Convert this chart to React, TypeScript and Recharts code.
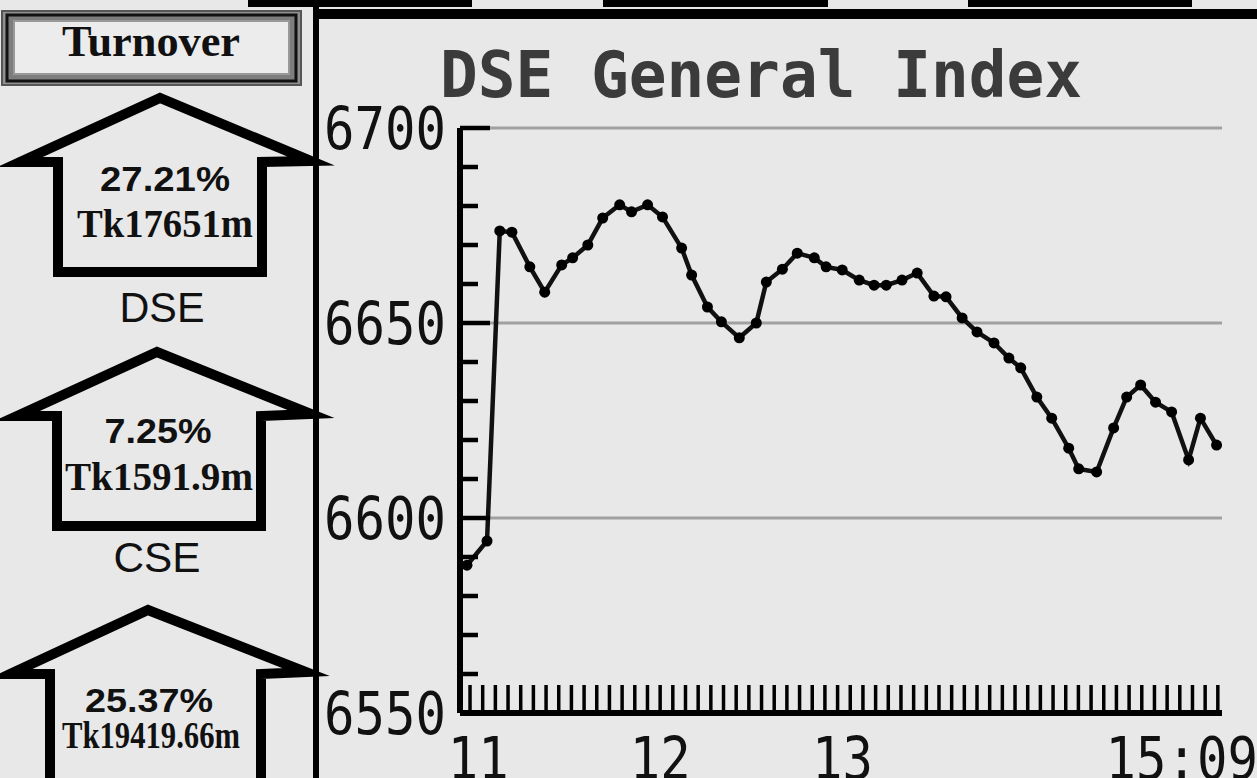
import React from 'react';
import { LineChart, Line, XAxis, YAxis, ReferenceLine } from 'recharts';

// ---- data ----
const chartTitle = 'DSE General Index';
// minutes since midnight
const times = [656.3, 662.9, 667.1, 671.1, 677.0, 681.9, 687.5, 691.1, 696.1, 701.0, 706.6, 710.5, 715.8, 720.7, 727.0, 730.3, 735.5, 740.1, 746.0, 751.6, 754.9, 760.2, 765.1, 770.7, 774.6, 779.9, 785.5, 790.4, 794.4, 799.6, 804.6, 810.1, 814.1, 819.4, 824.3, 829.9, 834.8, 838.7, 844.0, 848.9, 854.5, 857.8, 863.7, 869.3, 873.6, 878.2, 883.1, 888.4, 894.0, 897.9, 903.2];
const indexValues = [6587.9, 6594.1, 6673.6, 6673.3, 6664.4, 6657.9, 6664.9, 6666.7, 6670.0, 6676.9, 6680.3, 6678.5, 6680.3, 6677.2, 6669.2, 6662.3, 6654.1, 6650.3, 6646.2, 6650.0, 6660.5, 6663.8, 6667.9, 6666.7, 6664.4, 6663.6, 6661.0, 6659.7, 6659.7, 6661.0, 6662.8, 6656.9, 6656.7, 6651.3, 6647.7, 6644.9, 6641.0, 6638.5, 6631.0, 6625.6, 6617.9, 6612.6, 6611.8, 6623.1, 6631.0, 6634.1, 6629.7, 6627.2, 6614.9, 6625.6, 6618.7];
const yTickValues = [6550, 6560, 6570, 6580, 6590, 6600, 6610, 6620, 6630, 6640, 6650, 6660, 6670, 6680, 6690, 6700];
const gridValues = [6600, 6650, 6700];
const xLabelValues = [660, 720, 780, 905];
const xLabelTexts = ['11', '12', '13', '15:09'];
const xDomain = [654, 905];
const minorTickCount = 60;

const turnoverTitle = 'Turnover';
const turnoverPct = ['27.21%', '7.25%', '25.37%'];
const turnoverAmt = ['Tk17651m', 'Tk1591.9m', 'Tk19419.66m'];
const exchangeNames = ['DSE', 'CSE'];

const data = times.map((t, i) => ({ t, v: indexValues[i] }));
const minorTicks = Array.from({ length: minorTickCount }, (_, i) => 657.3 + i * 4.175);
const xTicks = [...minorTicks, ...xLabelValues];

const BG = '#e8e8e8';
const MONO = '"DejaVu Sans Mono", "Liberation Mono", monospace';
const SERIF = '"Liberation Serif", "DejaVu Serif", serif';
const SANS = '"Liberation Sans", Arial, sans-serif';

const YTick = (props: any) => {
  const { x, y, payload } = props;
  const v = payload.value;
  const major = v % 50 === 0;
  return (
    <g>
      <line x1={x} x2={x + (major ? 30 : 18)} y1={y} y2={y} stroke="#000" strokeWidth={4.5} />
      {major && (
        <text x={x - 14} y={y + 21} textAnchor="end" fontFamily={MONO} fontSize={58} textLength={122}
          lengthAdjust="spacingAndGlyphs" fill="#111">{v}</text>
      )}
    </g>
  );
};

const XTick = (props: any) => {
  const { x, y, payload } = props;
  const v = payload.value;
  const idx = xLabelValues.indexOf(v);
  if (idx >= 0) {
    const txt = xLabelTexts[idx];
    const isLast = idx === xLabelValues.length - 1;
    return (
      <text x={isLast ? x + 36 : x} y={y + 66} textAnchor={isLast ? 'end' : 'middle'} fontFamily={MONO}
        fontSize={58} textLength={txt.length * 30.5} lengthAdjust="spacingAndGlyphs" fill="#111">{txt}</text>
    );
  }
  return <line x1={x} x2={x} y1={y} y2={y - 28} stroke="#000" strokeWidth={3.5} />;
};

const Arrow = ({ pts }: { pts: string }) => (
  <polygon points={pts} fill="none" stroke="#000" strokeWidth={10} strokeLinejoin="miter" strokeMiterlimit={10} />
);

export default function App() {
  return (
    <div style={{ position: 'fixed', left: 0, top: 0, width: 1257, height: 778, overflow: 'hidden', background: BG }}>
      <svg width={1257} height={778} style={{ position: 'absolute', left: 0, top: 0 }}>
        <rect x={0} y={0} width={1257} height={778} fill={BG} />
        {/* top tabs and frame */}
        <rect x={248} y={0} width={224} height={7} fill="#000" />
        <rect x={603} y={0} width={225} height={7} fill="#000" />
        <rect x={968} y={0} width={224} height={7} fill="#000" />
        <rect x={313} y={9} width={944} height={10} fill="#000" />
        <rect x={313} y={0} width={6} height={778} fill="#000" />

        {/* Turnover button */}
        <rect x={2} y={11} width={299} height={74} fill="#8f8f8f" stroke="#555" strokeWidth={2} />
        <rect x={7} y={15} width={289} height={66} fill="#7d7d7d" stroke="#111" strokeWidth={3} />
        <rect x={14} y={21} width={275} height={53} fill="#ececec" stroke="#999" strokeWidth={2} />
        <text x={151} y={56} textAnchor="middle" fontFamily={SERIF} fontWeight="bold" fontSize={44}
          textLength={178} lengthAdjust="spacingAndGlyphs" fill="#111">{turnoverTitle}</text>

        {/* arrows */}
        <Arrow pts="20,162 160,98 311,161 262,162 262,272 58,272 58,162" />
        <Arrow pts="17,416 157,352 311,414 261,416 261,526 57,526 57,416" />
        <Arrow pts="10,674 148,610 306,672 261,674 261,820 50,820 50,674" />

        <text x={165} y={191} textAnchor="middle" fontFamily={SANS} fontWeight="bold" fontSize={35}
          textLength={130} lengthAdjust="spacingAndGlyphs" fill="#111">{turnoverPct[0]}</text>
        <text x={165} y={237} textAnchor="middle" fontFamily={SERIF} fontWeight="bold" fontSize={41}
          textLength={176} lengthAdjust="spacingAndGlyphs" fill="#111">{turnoverAmt[0]}</text>
        <text x={162} y={322} textAnchor="middle" fontFamily={SANS} fontSize={42}
          textLength={85} lengthAdjust="spacingAndGlyphs" fill="#111">{exchangeNames[0]}</text>

        <text x={158} y={443} textAnchor="middle" fontFamily={SANS} fontWeight="bold" fontSize={35}
          textLength={107} lengthAdjust="spacingAndGlyphs" fill="#111">{turnoverPct[1]}</text>
        <text x={159} y={490} textAnchor="middle" fontFamily={SERIF} fontWeight="bold" fontSize={41}
          textLength={188} lengthAdjust="spacingAndGlyphs" fill="#111">{turnoverAmt[1]}</text>
        <text x={157} y={572} textAnchor="middle" fontFamily={SANS} fontSize={42}
          textLength={87} lengthAdjust="spacingAndGlyphs" fill="#111">{exchangeNames[1]}</text>

        <text x={149} y={712} textAnchor="middle" fontFamily={SANS} fontWeight="bold" fontSize={34}
          textLength={128} lengthAdjust="spacingAndGlyphs" fill="#111">{turnoverPct[2]}</text>
        <text x={151} y={748} textAnchor="middle" fontFamily={SERIF} fontWeight="bold" fontSize={37}
          textLength={178} lengthAdjust="spacingAndGlyphs" fill="#111">{turnoverAmt[2]}</text>

        {/* title */}
        <text x={761} y={97} textAnchor="middle" fontFamily={MONO} fontWeight="bold" fontSize={64}
          textLength={642} lengthAdjust="spacingAndGlyphs" fill="#3b3b3b">{chartTitle}</text>
      </svg>

      <div style={{ position: 'absolute', left: 320, top: 20, width: 937, height: 758, overflow: 'hidden' }}>
        <LineChart width={937} height={758} data={data} margin={{ top: 108, right: 35, bottom: 0, left: 0 }}>
          {gridValues.map((g) => (
            <ReferenceLine key={g} y={g} stroke="#a0a0a0" strokeWidth={3} />
          ))}
          <XAxis dataKey="t" type="number" domain={xDomain} allowDataOverflow ticks={xTicks} interval={0}
            tick={<XTick />} tickLine={false} tickSize={0} tickMargin={0} height={65}
            axisLine={{ stroke: '#000', strokeWidth: 6 }} />
          <YAxis type="number" domain={[6550, 6700]} allowDataOverflow ticks={yTickValues} interval={0}
            tick={<YTick />} tickLine={false} tickSize={0} tickMargin={0} width={140}
            axisLine={{ stroke: '#000', strokeWidth: 6 }} />
          <Line type="linear" dataKey="v" stroke="#111" strokeWidth={4.5}
            dot={{ r: 5.5, fill: '#000', stroke: 'none' }} isAnimationActive={false} />
        </LineChart>
      </div>
    </div>
  );
}
